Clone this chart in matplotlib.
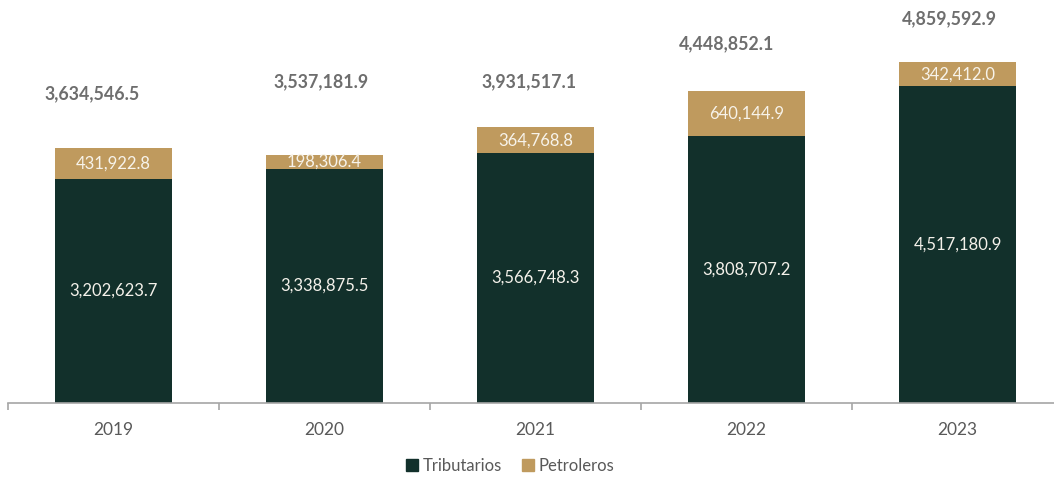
import matplotlib
matplotlib.use("Agg")
import matplotlib.pyplot as plt
from matplotlib.patches import Patch
import numpy as np

years = ["2019", "2020", "2021", "2022", "2023"]
tributarios = [3202623.7, 3338875.5, 3566748.3, 3808707.2, 4517180.9]
petroleros = [431922.8, 198306.4, 364768.8, 640144.9, 342412.0]
totales = [3634546.5, 3537181.9, 3931517.1, 4448852.1, 4859592.9]

# label placement tweaks (as in the reference)
total_dx = [-0.10, -0.015, -0.03, -0.095, -0.04]
total_dy = [0.774e6, 1.042e6, 0.648e6, 0.672e6, 0.618e6]

c_trib = "#12302b"
c_petr = "#bf9a5e"
c_total = "#6e6e6e"

plt.rcParams['font.family'] = ['Lato', 'DejaVu Sans']

fig = plt.figure(figsize=(10.54, 4.78), dpi=100)
ax = fig.add_axes([8/1054, 1 - 403/478, 1055/1054, 403/478])

x = np.arange(len(years))
w = 0.555
ax.bar(x, tributarios, width=w, color=c_trib)
ax.bar(x, petroleros, width=w, bottom=tributarios, color=c_petr)

for i in range(len(years)):
    ax.text(x[i], tributarios[i] / 2, f"{tributarios[i]:,.1f}", ha="center", va="center",
            color="#f4f1ea", fontsize=12)
    ax.text(x[i], tributarios[i] + petroleros[i] / 2, f"{petroleros[i]:,.1f}", ha="center",
            va="center", color="#f7f3ea", fontsize=12)
    ax.text(x[i] + total_dx[i], totales[i] + total_dy[i], f"{totales[i]:,.1f}", ha="center",
            va="center", color=c_total, fontsize=12.8, fontweight="bold")

ax.set_xlim(-0.5, len(years) - 0.5)
ax.set_ylim(0, 5.75e6)
for s in ["top", "right", "left"]:
    ax.spines[s].set_visible(False)
ax.spines["bottom"].set_color("#a6a6a6")
ax.spines["bottom"].set_linewidth(1.2)
ax.set_yticks([])
ax.set_xticks(np.arange(-0.5, len(years), 1.0))
ax.set_xticks(x, minor=True)
ax.set_xticklabels([])
ax.set_xticklabels(years, minor=True)
ax.tick_params(axis="x", which="major", length=5, width=1.2, color="#a6a6a6")
ax.tick_params(axis="x", which="minor", length=0, pad=14, labelsize=12.5, labelcolor="#595959")

handles = [Patch(color=c_trib, label="Tributarios"), Patch(color=c_petr, label="Petroleros")]
fig.legend(handles=handles, loc="center", bbox_to_anchor=(0.484, 1 - 466/478), ncol=2,
           frameon=False, fontsize=12, handlelength=0.7, handleheight=0.7,
           handletextpad=0.3, columnspacing=1.2, labelcolor="#595959")

fig.savefig("out.png", dpi=100)
